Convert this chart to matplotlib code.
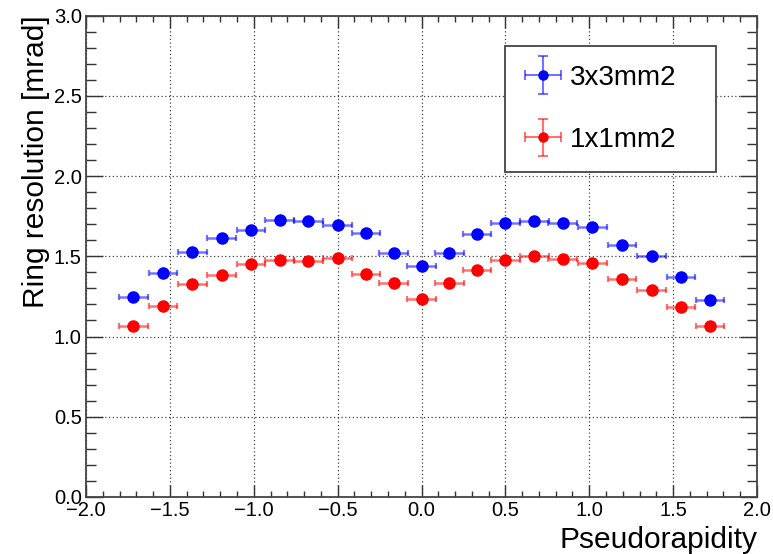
import matplotlib
matplotlib.use('Agg')
import matplotlib.pyplot as plt
from matplotlib.container import ErrorbarContainer
from matplotlib.legend_handler import HandlerErrorbar
from matplotlib.ticker import MultipleLocator, FuncFormatter


# bin centres in pseudorapidity and half bin width
eta = [-1.718, -1.541, -1.366, -1.191, -1.016, -0.844, -0.675, -0.500,
       -0.331, -0.166, 0.000, 0.166, 0.331, 0.500, 0.672, 0.843, 1.018,
       1.195, 1.372, 1.547, 1.720]
eta_halfwidth = 0.086

# ring resolution [mrad] for the two pixel sizes
res_3x3 = [1.247, 1.394, 1.527, 1.612, 1.664, 1.724, 1.718, 1.693, 1.645,
           1.521, 1.438, 1.523, 1.639, 1.705, 1.718, 1.710, 1.685, 1.568,
           1.502, 1.371, 1.230]
res_1x1 = [1.066, 1.189, 1.326, 1.384, 1.450, 1.477, 1.471, 1.490, 1.392,
           1.334, 1.236, 1.334, 1.417, 1.475, 1.502, 1.484, 1.456, 1.357,
           1.288, 1.183, 1.066]

labels = ['3x3mm2', '1x1mm2']
colors = ['#0000ff', '#ff0000']

plt.rcParams['font.family'] = ['Liberation Sans', 'DejaVu Sans']


def fmt_tick(v, pos):
    s = '%.1f' % abs(v)
    return ('\u2212' + s) if v < -1e-9 else s


fig = plt.figure(figsize=(7.73, 5.54), dpi=100)
ax = fig.add_axes([86 / 773, 57 / 554, 671 / 773, 481.5 / 554])

handles = []
for series, color, label in zip((res_3x3, res_1x1), colors, labels):
    ax.errorbar(eta, series, xerr=eta_halfwidth, fmt='none',
                ecolor=color, alpha=0.55, elinewidth=1.8, capsize=2.5,
                capthick=1.6, zorder=2)
    ax.plot(eta, series, 'o', color=color, markersize=8, zorder=3)
    # legend proxy shows both x and y error bars
    proxy = ax.errorbar([0], [-10], xerr=[0.1], yerr=[0.1], fmt='o',
                        color=color, markersize=6.5, ecolor=color,
                        elinewidth=1.5, capsize=3.5, capthick=1.5)
    for bar in proxy[2]:
        bar.set_alpha(0.55)
    for cap in proxy[1]:
        cap.set_alpha(0.55)
    handles.append(proxy)

ax.set_xlim(-2.0, 2.0)
ax.set_ylim(0.0, 3.0)
ax.xaxis.set_major_locator(MultipleLocator(0.5))
ax.xaxis.set_minor_locator(MultipleLocator(0.1))
ax.yaxis.set_major_locator(MultipleLocator(0.5))
ax.yaxis.set_minor_locator(MultipleLocator(0.1))
ax.xaxis.set_major_formatter(FuncFormatter(fmt_tick))
ax.yaxis.set_major_formatter(FuncFormatter(fmt_tick))

ax.tick_params(which='both', direction='in', top=True, right=True,
               labelsize=14.5, colors='#333333', labelcolor='black')
ax.tick_params(axis='x', which='major', length=8.5, width=1.0, pad=3)
ax.tick_params(axis='x', which='minor', length=4.3, width=1.0)
ax.tick_params(axis='y', which='major', length=12, width=1.0, pad=3)
ax.tick_params(axis='y', which='minor', length=7, width=1.0)

ax.grid(True, which='major', linestyle=(0, (1, 2)), color='#444444',
        linewidth=0.9, zorder=0)
ax.set_axisbelow(True)
for spine in ax.spines.values():
    spine.set_linewidth(1.3)
    spine.set_color('#444444')

ax.set_xlabel('Pseudorapidity', fontsize=21.5, loc='right', labelpad=4)
ax.set_ylabel('Ring resolution [mrad]', fontsize=21.5, loc='top',
              labelpad=3)

leg = ax.legend(handles, labels, loc='upper left',
                bbox_to_anchor=(0.6245, 0.685, 0.3145, 0.252), mode='expand',
                fontsize=20, frameon=True, fancybox=False, borderpad=0.68,
                labelspacing=1.3, handlelength=1.35, handletextpad=0.3,
                borderaxespad=0.0,
                handler_map={ErrorbarContainer:
                             HandlerErrorbar(xerr_size=0.65, yerr_size=0.67)})
leg.get_frame().set_edgecolor('#444444')
leg.get_frame().set_linewidth(1.3)
leg.get_frame().set_alpha(1.0)

fig.savefig('out.png', dpi=100)
